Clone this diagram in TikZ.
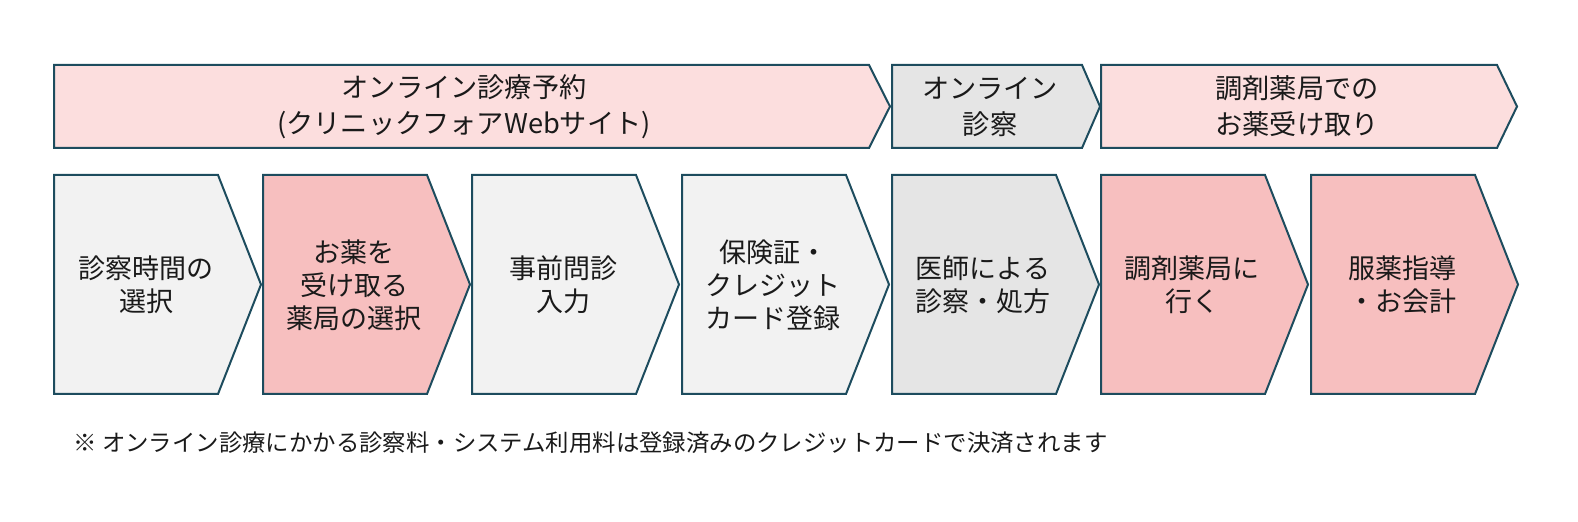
\documentclass[tikz,border=0pt]{standalone}
\usepackage{fontspec}
\setmainfont{Noto Sans CJK JP}
\definecolor{edge}{HTML}{1D4C5E}
\definecolor{pinkL}{HTML}{FCDEDE}
\definecolor{pinkM}{HTML}{F7BFBF}
\definecolor{grayL}{HTML}{F2F2F2}
\definecolor{grayM}{HTML}{E5E5E5}
\definecolor{txt}{HTML}{1A1A1A}
\begin{document}
\begin{tikzpicture}[x=0.5pt,y=-0.5pt,
  chev/.style={draw=edge, line width=1pt, line join=miter},
  lblb/.style={align=center, text=txt, inner sep=0pt, font=\fontsize{13.5}{16.5}\selectfont},
  lblt/.style={align=center, text=txt, inner sep=0pt, font=\fontsize{13.6}{18}\selectfont},
  note/.style={anchor=west, text=txt, inner sep=0pt, font=\fontsize{11.7}{14}\selectfont}]
\useasboundingbox (0,0) rectangle (1578,522);
% top banners
\draw[chev, fill=pinkL] (54,65) -- (869,65) -- (890,106.5) -- (869,148) -- (54,148) -- cycle;
\draw[chev, fill=grayM] (892,65) -- (1082,65) -- (1100,106.5) -- (1082,148) -- (892,148) -- cycle;
\draw[chev, fill=pinkL] (1101,65) -- (1497,65) -- (1517,106.5) -- (1497,148) -- (1101,148) -- cycle;
\node[lblt] (t1) at (464,106.5) {オンライン診療予約\\(クリニックフォアWebサイト)};
\node[lblt] (t2) at (990,106.5) {オンライン\\診察};
\node[lblt] (t3) at (1297,106.5) {調剤薬局での\\お薬受け取り};
% bottom chevrons
\foreach \L/\col in {54/grayL, 263/pinkM, 472/grayL, 682/grayL, 892/grayM, 1101/pinkM, 1311/pinkM}{
  \draw[chev, fill=\col] (\L,175) -- ({\L+164},175) -- ({\L+207},284.5) -- ({\L+164},394) -- (\L,394) -- cycle;
}
\node[lblb] (b1) at (146,285) {診察時間の\\選択};
\node[lblb] (b2) at (354,285) {お薬を\\受け取る\\薬局の選択};
\node[lblb] (b3) at (563,285) {事前問診\\入力};
\node[lblb] (b4) at (773,285) {保険証・\\クレジット\\カード登録};
\node[lblb] (b5) at (983,285) {医師による\\診察・処方};
\node[lblb] (b6) at (1192,285) {調剤薬局に\\行く};
\node[lblb] (b7) at (1402,285) {服薬指導\\・お会計};
% footnote
\node[note] (fn) at (73,443) {※ オンライン診療にかかる診察料・システム利用料は登録済みのクレジットカードで決済されます};
\end{tikzpicture}
\end{document}
